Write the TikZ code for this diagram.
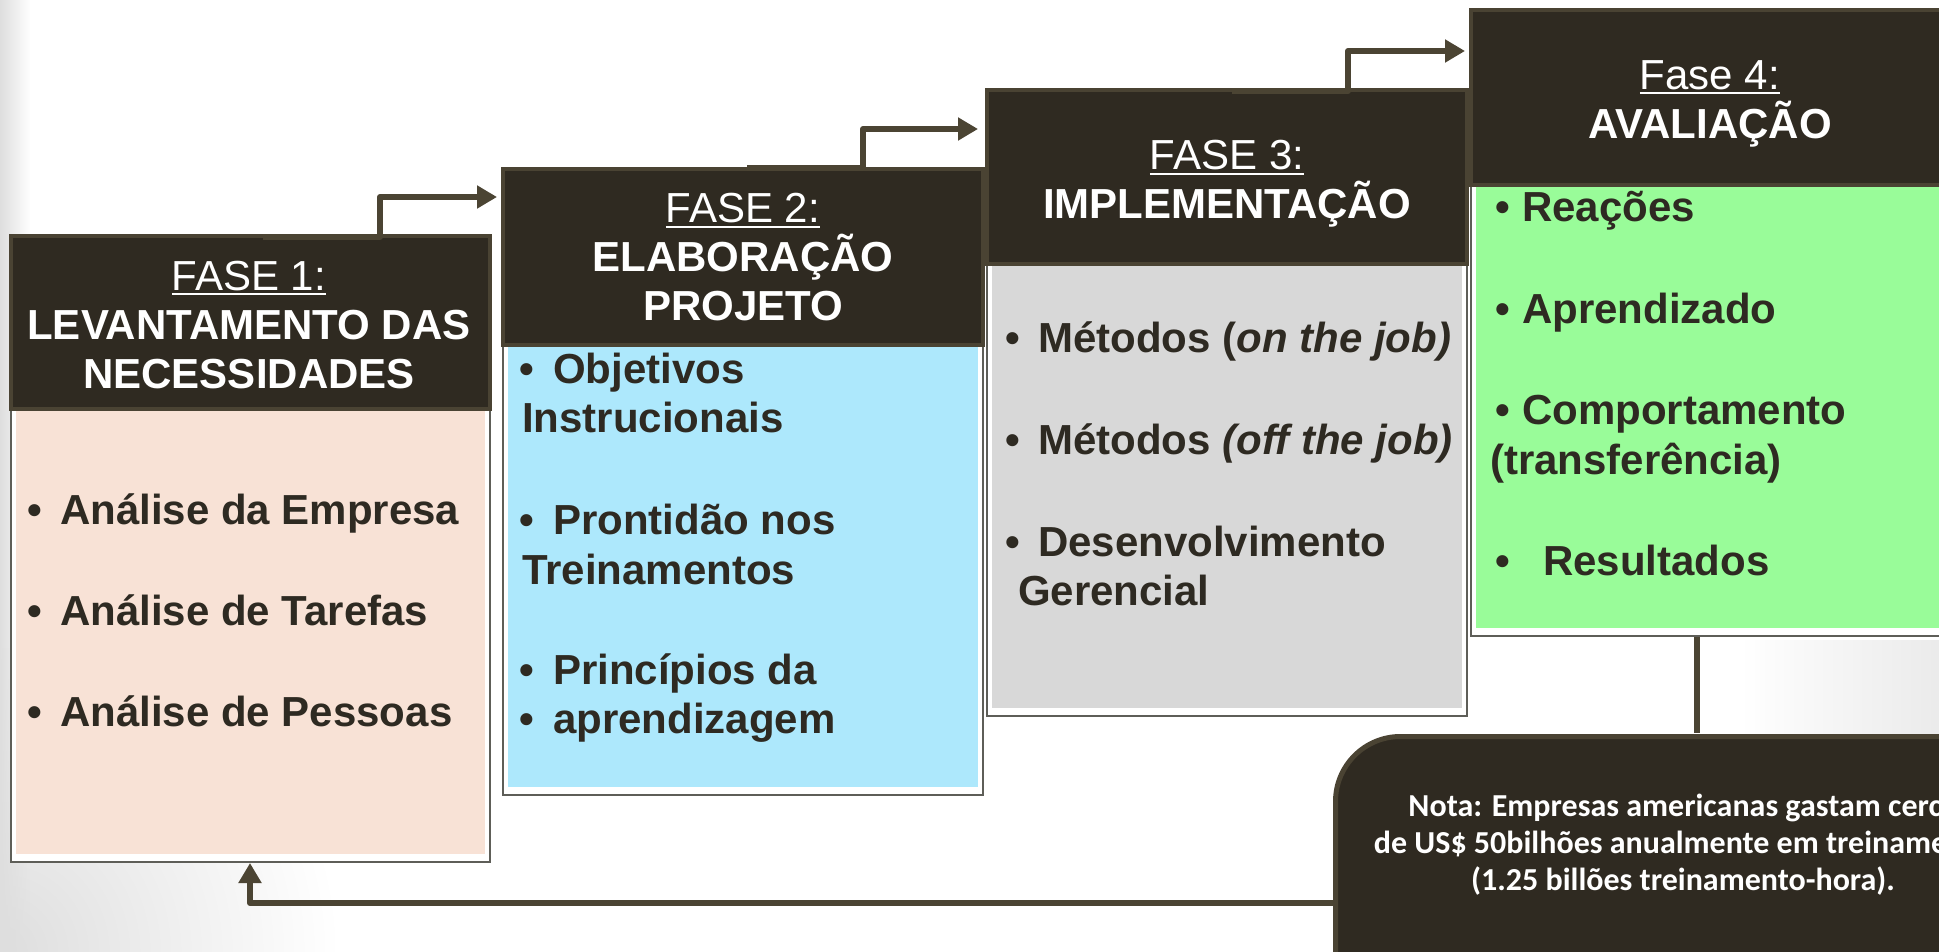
\documentclass[tikz,border=0pt]{standalone}
\usepackage{fontspec}
\setmainfont{Liberation Sans}
\newfontfamily\notefont{Carlito}
\usetikzlibrary{arrows.meta,fadings}
\definecolor{hdrfill}{HTML}{2F2A21}
\definecolor{hdredge}{HTML}{4A4333}
\definecolor{conncol}{HTML}{4B4433}
\definecolor{itemcol}{HTML}{2E2A22}
\definecolor{framecol}{HTML}{5E5E58}
\definecolor{fillA}{HTML}{F8E2D6}
\definecolor{fillB}{HTML}{ADE8FC}
\definecolor{fillC}{HTML}{D8D8D8}
\definecolor{fillD}{HTML}{99FC99}
\newcommand\ulx[1]{\setbox0=\hbox{#1}\rlap{\rule[-5pt]{\wd0}{2.2pt}}\box0}
\newcommand\bulx[1]{\makebox[#1pt][l]{•}}
\begin{document}
\begin{tikzpicture}[x=1pt,y=-1pt,
  boxframe/.style={draw=framecol, line width=2pt, fill=white, inner sep=0, outer sep=0, anchor=north west},
  hdr/.style={fill=hdrfill, draw=hdredge, line width=4pt, inner sep=0, outer sep=0, anchor=north west},
  bodyfill/.style={fill=#1, inner sep=0, outer sep=0, anchor=north west},
  hdrtext/.style={text=white, align=center, inner sep=0, font=\fontsize{42}{49}\selectfont},
  item/.style={anchor=base west, inner sep=0, text=itemcol, font=\fontsize{42}{49}\selectfont\bfseries},
  conn/.style={draw=conncol, line width=6pt, line join=round, -{Triangle[length=20pt,width=22pt]}},
  link/.style={draw=conncol, line width=6pt},
  notebox/.style={fill=hdrfill, draw=hdredge, line width=5pt, rounded corners=65pt, anchor=north west, inner sep=0},
  notetext/.style={text=white, align=center, inner sep=0, font=\notefont\bfseries\fontsize{32}{37}\selectfont}
]
\useasboundingbox (0,0) rectangle (1939,952);
\clip (0,0) rectangle (1939,952);
% slide background
\fill[white] (0,0) rectangle (1939,952);
\shade[inner color=black!13, outer color=white] (0,952) circle (340);
\fill[black!13, path fading=east] (0,0) rectangle (30,952);
\shade[left color=white, right color=black!8] (1740,640) rectangle (1939,734);

% Box 1
\node[boxframe, minimum width=479pt, minimum height=626pt] (b1) at (11,236) {};
\node[hdr, minimum width=479pt, minimum height=173pt] (h1) at (11,236) {};
\node[bodyfill=fillA, minimum width=469pt, minimum height=443pt] (f1) at (16,411) {};
% Box 2
\node[boxframe, minimum width=480pt, minimum height=626pt] (b2) at (503,169) {};
\node[hdr, minimum width=480pt, minimum height=176pt] (h2) at (503,169) {};
\node[bodyfill=fillB, minimum width=470pt, minimum height=440pt] (f2) at (508,347) {};
% Box 3
\node[boxframe, minimum width=480pt, minimum height=626pt] (b3) at (987,90) {};
\node[hdr, minimum width=480pt, minimum height=174pt] (h3) at (987,90) {};
\node[bodyfill=fillC, minimum width=470pt, minimum height=442pt] (f3) at (992,266) {};
% Box 4
\node[boxframe, minimum width=478pt, minimum height=626pt] (b4) at (1471,10) {};
\node[hdr, minimum width=478pt, minimum height=175pt] (h4) at (1471,10) {};
\node[bodyfill=fillD, minimum width=468pt, minimum height=441pt] (f4) at (1476,187) {};

% header texts
\node[hdrtext] (t1) at (249,325) {\ulx{FASE 1:}\\\textbf{LEVANTAMENTO DAS}\hspace*{12pt}\\\textbf{NECESSIDADES}};
\node[hdrtext] (t2) at (743,257.5) {\ulx{FASE 2:}\\\textbf{ELABORAÇÃO}\hspace*{12pt}\\\textbf{PROJETO}};
\node[hdrtext] (t3) at (1227,184) {\ulx{FASE 3:}\\\textbf{IMPLEMENTAÇÃO}};
\node[hdrtext] (t4) at (1710,103.5) {\ulx{Fase 4:}\\\textbf{AVALIAÇÃO}};

% body items
\node[item] (i11) at (27,524) {\bulx{33}Análise da Empresa};
\node[item] (i12) at (27,625) {\bulx{33}Análise de Tarefas};
\node[item] (i13) at (27,726) {\bulx{33}Análise de Pessoas};

\node[item] (i21) at (519,383) {\bulx{34}Objetivos};
\node[item] (i22) at (522,432) {Instrucionais};
\node[item] (i23) at (519,534) {\bulx{34}Prontidão nos};
\node[item] (i24) at (522,584) {Treinamentos};
\node[item] (i25) at (519,684) {\bulx{34}Princípios da};
\node[item] (i26) at (519,733) {\bulx{34}aprendizagem};

\node[item] (i31) at (1005,352) {\bulx{33}Métodos (\textit{on the job)}};
\node[item] (i32) at (1005,454) {\bulx{33}Métodos \textit{(off the job)}};
\node[item] (i33) at (1005,556) {\bulx{33}Desenvolvimento};
\node[item] (i34) at (1018,605) {Gerencial};

\node[item] (i41) at (1495,222) {\bulx{27}Reações};
\node[item] (i42) at (1495,323) {\bulx{27}Aprendizado};
\node[item] (i43) at (1495,424) {\bulx{27}Comportamento};
\node[item] (i44) at (1490,474) {(transferência)};
\node[item] (i45) at (1495,575) {\bulx{48}Resultados};

% note
\node[notebox, minimum width=720pt, minimum height=420pt] (note) at (1333,734) {};
\node[notetext] (nt) at (1683,845) {Nota: Empresas americanas gastam cerca\\de US\$ 50bilhões anualmente em treinamento\\(1.25 billões treinamento-hora).};

% connectors
\coordinate (c1a) at (263,237); \coordinate (c1b) at (380,237);
\coordinate (c1c) at (380,197); \coordinate (c1d) at (497,197);
\draw[conn] (c1a) -- (c1b) -- (c1c) -- (c1d);
\coordinate (c2a) at (747,168); \coordinate (c2b) at (863,168);
\coordinate (c2c) at (863,129); \coordinate (c2d) at (978,129);
\draw[conn] (c2a) -- (c2b) -- (c2c) -- (c2d);
\coordinate (c3a) at (1232,91); \coordinate (c3b) at (1348,91);
\coordinate (c3c) at (1348,51); \coordinate (c3d) at (1465,51);
\draw[conn] (c3a) -- (c3b) -- (c3c) -- (c3d);

\coordinate (v1) at (1697,637); \coordinate (v2) at (1697,733);
\draw[link] (v1) -- (v2);

\coordinate (fbA) at (1333,903); \coordinate (fbB) at (250,903);
\coordinate (fbC) at (250,863);
\draw[conn] (fbA) -- (fbB) -- (fbC);
\end{tikzpicture}
\end{document}
